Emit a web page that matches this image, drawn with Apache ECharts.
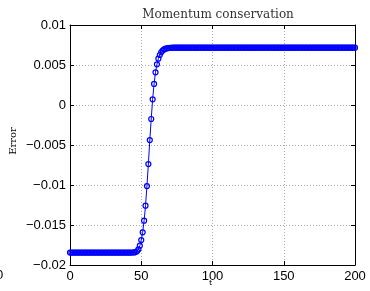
<!DOCTYPE html>
<html>
<head>
<meta charset="utf-8">
<script src="https://cdn.jsdelivr.net/npm/echarts@6/dist/echarts.min.js"></script>
<style>
  html, body { margin: 0; padding: 0; background: #fff; }
  #chart { width: 370px; height: 291px; }
</style>
</head>
<body>
<div id="chart"></div>
<script>
// momentum error vs t, one point per time step (t = 0..200)
var errorBefore = [
  -0.01845, -0.01845, -0.01845, -0.01845, -0.01845, -0.01845, -0.01845, -0.01845, -0.01845, -0.01845, -0.01845, -0.01845, -0.01845, -0.01845, -0.01845,
  -0.01845, -0.01845, -0.01845, -0.01845, -0.01845, -0.01845, -0.01845, -0.01845, -0.01845, -0.01845, -0.01845, -0.01845, -0.01845, -0.01845, -0.01845,
  -0.01845, -0.01845, -0.01845, -0.01845, -0.01845, -0.01845, -0.01845, -0.01845, -0.01845, -0.01845, -0.01845, -0.01845, -0.01845, -0.01844, -0.01844
];
var errorRise = [
  -0.01843, -0.01838, -0.01828, -0.01805, -0.01759, -0.01688, -0.01591, -0.01446, -0.01259,
  -0.01013, -0.00738, -0.00438, -0.00175, 0.00071, 0.00263, 0.00409, 0.00509, 0.00579,
  0.00625, 0.00659, 0.00680, 0.00695, 0.00704, 0.00709, 0.00712, 0.00714, 0.00715
];
var errorAfter = [
  0.00716, 0.00716, 0.00716, 0.00716, 0.00716, 0.00716, 0.00716, 0.00716, 0.00716, 0.00716, 0.00716, 0.00716, 0.00716, 0.00716, 0.00716, 0.00716,
  0.00716, 0.00716, 0.00716, 0.00716, 0.00716, 0.00716, 0.00716, 0.00716, 0.00716, 0.00716, 0.00716, 0.00716, 0.00716, 0.00716, 0.00716, 0.00716,
  0.00716, 0.00716, 0.00716, 0.00716, 0.00716, 0.00716, 0.00716, 0.00716, 0.00716, 0.00716, 0.00716, 0.00716, 0.00716, 0.00716, 0.00716, 0.00716,
  0.00716, 0.00716, 0.00716, 0.00716, 0.00716, 0.00716, 0.00716, 0.00716, 0.00716, 0.00716, 0.00716, 0.00716, 0.00716, 0.00716, 0.00716, 0.00716,
  0.00716, 0.00716, 0.00716, 0.00716, 0.00716, 0.00716, 0.00716, 0.00716, 0.00716, 0.00716, 0.00716, 0.00716, 0.00716, 0.00716, 0.00716, 0.00716,
  0.00716, 0.00716, 0.00716, 0.00716, 0.00716, 0.00716, 0.00716, 0.00716, 0.00716, 0.00716, 0.00716, 0.00716, 0.00716, 0.00716, 0.00716, 0.00716,
  0.00716, 0.00716, 0.00716, 0.00716, 0.00716, 0.00716, 0.00716, 0.00716, 0.00716, 0.00716, 0.00716, 0.00716, 0.00716, 0.00716, 0.00716, 0.00716,
  0.00716, 0.00716, 0.00716, 0.00716, 0.00716, 0.00716, 0.00716, 0.00716, 0.00716, 0.00716, 0.00716, 0.00716, 0.00716, 0.00716, 0.00716, 0.00716,
  0.00716
];
var xTicks = [0, 50, 100, 150, 200];
var yTicks = [-0.02, -0.015, -0.01, -0.005, 0, 0.005, 0.01];

var errorValues = errorBefore.concat(errorRise, errorAfter);
var points = errorValues.map(function (v, i) { return [i, v]; });

var tickFont = 'Liberation Sans';
var serif = 'DejaVu Serif';
var blue = '#0000ff';

function fmtY(v) {
    var s = String(+v.toFixed(4));
    return s.replace('-', '\u2212');
}

// shared style for the box axes (MATLAB-like: ticks inside, black frame)
function frameAxis(extra) {
    var base = {
        type: 'value',
        axisLine: { show: true, onZero: false, lineStyle: { color: '#000', width: 1 } },
        axisTick: { show: true, inside: true, length: 4, lineStyle: { color: '#000' } },
        axisLabel: { show: false },
        splitLine: { show: false }
    };
    return Object.assign(base, extra);
}

var chart = echarts.init(document.getElementById('chart'), null, { renderer: 'canvas' });
chart.setOption({
    animation: false,
    color: [blue],
    title: {
        text: 'Momentum conservation',
        left: 213, top: 4, textAlign: 'center',
        textStyle: { fontFamily: serif, fontSize: 12, fontWeight: 'normal', color: '#333' }
    },
    graphic: [
        { type: 'text', left: -4, top: 269, style: { text: '0', font: '13px ' + tickFont, fill: '#000' } },
        { type: 'text', left: 209, top: 279, style: { text: 't', font: '8px ' + serif, fill: '#000' } },
        { type: 'text', x: 13, y: 141, rotation: Math.PI / 2,
          style: { text: 'Error', font: '10px ' + serif, fill: '#000', align: 'center', verticalAlign: 'middle' } }
    ],
    grid: { left: 70, right: 15, top: 25, bottom: 26, show: false },
    xAxis: [
        frameAxis({
            min: xTicks[0], max: xTicks[xTicks.length - 1], interval: 50,
            axisLabel: { show: true, color: '#000', fontFamily: tickFont, fontSize: 13, margin: 5 },
            splitLine: { show: true, lineStyle: { color: '#aaa', type: [1, 2], width: 1 } }
        }),
        frameAxis({ position: 'top', min: 0, max: 200, interval: 50 })
    ],
    yAxis: [
        frameAxis({
            min: yTicks[0], max: yTicks[yTicks.length - 1], interval: 0.005,
            axisLabel: { show: true, color: '#000', fontFamily: tickFont, fontSize: 13, margin: 4, formatter: fmtY },
            splitLine: { show: true, lineStyle: { color: '#aaa', type: [1, 2], width: 1 } }
        }),
        frameAxis({ position: 'right', min: -0.02, max: 0.01, interval: 0.005 })
    ],
    series: [{
        type: 'line',
        data: points,
        color: blue,
        symbol: 'circle',
        symbolSize: 5,
        showAllSymbol: true,
        clip: false,
        lineStyle: { color: blue, width: 1 },
        itemStyle: { color: 'rgba(0,0,255,0)', borderColor: blue, borderWidth: 1.2 }
    }]
});
</script>
</body>
</html>
